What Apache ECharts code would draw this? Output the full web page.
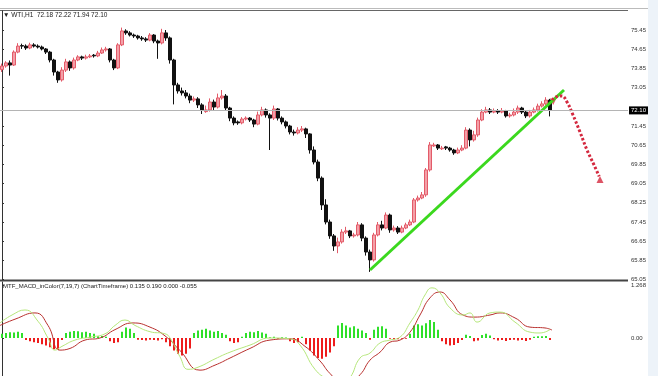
<!DOCTYPE html>
<html><head><meta charset="utf-8">
<script src="https://cdn.jsdelivr.net/npm/echarts@6/dist/echarts.min.js"></script>
<style>html,body{margin:0;padding:0;background:#fff}#c{width:658px;height:376px}</style>
</head><body><div id="c"></div>
<script>
// ---- DATA ----
const opens = [73.80,73.95,74.08,73.99,74.53,74.80,74.78,74.70,74.83,74.78,
74.74,74.66,74.53,74.20,73.70,73.37,73.78,74.12,73.87,74.20,
74.33,74.28,74.33,74.40,74.37,74.49,74.62,74.66,74.20,73.87,
74.83,75.41,75.33,75.24,75.20,75.12,75.08,75.03,75.24,74.99,
74.91,75.33,75.12,74.20,73.16,72.91,72.83,72.70,72.53,72.58,
72.33,72.05,72.12,72.45,72.24,72.62,72.70,72.20,71.78,71.62,
71.58,71.74,71.78,71.70,71.53,71.91,72.12,71.91,71.78,72.16,
71.78,71.62,71.45,71.20,71.16,71.28,71.33,71.12,70.45,69.95,
69.28,68.16,67.45,66.87,66.45,66.62,67.03,67.08,66.87,66.91,
67.33,66.78,66.20,65.87,66.91,67.33,67.20,67.74,67.12,67.20,
67.03,67.20,67.33,67.45,68.37,68.45,68.58,69.62,70.62,70.66,
70.50,70.58,70.53,70.45,70.33,70.45,70.53,71.28,70.87,71.08,
71.70,72.03,72.12,72.03,72.08,72.03,72.08,71.87,71.91,72.03,
72.20,72.03,71.87,72.03,72.12,72.28,72.37,72.53];
const closes = [73.95,74.08,73.99,74.53,74.78,74.78,74.70,74.83,74.78,74.74,
74.66,74.53,74.20,73.70,73.37,73.78,74.12,73.87,74.20,74.33,
74.28,74.33,74.37,74.37,74.49,74.62,74.66,74.20,73.87,74.83,
75.41,75.33,75.24,75.20,75.12,75.08,75.03,75.24,74.99,74.91,
75.33,75.12,74.20,73.16,72.91,72.83,72.70,72.53,72.58,72.33,
72.12,72.12,72.45,72.24,72.62,72.70,72.20,71.78,71.58,71.58,
71.74,71.78,71.70,71.53,71.91,72.12,71.91,71.78,72.16,71.78,
71.62,71.45,71.20,71.16,71.28,71.33,71.12,70.45,69.95,69.28,
68.16,67.45,66.87,66.45,66.62,67.03,67.08,66.87,66.91,67.33,
66.78,66.20,65.87,66.91,67.33,67.20,67.74,67.12,67.20,67.03,
67.20,67.33,67.45,68.37,68.45,68.58,69.62,70.66,70.66,70.53,
70.53,70.53,70.45,70.33,70.45,70.53,71.28,70.87,71.08,71.70,
72.03,72.12,72.03,72.08,72.03,72.08,71.87,71.91,72.03,72.20,
72.03,71.87,72.03,72.12,72.28,72.37,72.53,72.10];
const highs = [74.05,74.15,74.18,74.60,74.90,74.88,74.85,74.92,74.90,74.85,
74.80,74.70,74.58,74.25,73.75,73.90,74.25,74.18,74.30,74.40,
74.38,74.42,74.45,74.45,74.58,74.72,74.75,74.70,74.25,74.90,
75.55,75.48,75.40,75.30,75.25,75.20,75.15,75.32,75.28,75.05,
75.50,75.45,75.18,74.25,73.25,73.05,72.95,72.80,72.68,72.65,
72.40,72.30,72.60,72.55,72.80,72.95,72.78,72.25,71.85,71.68,
71.82,71.85,71.82,71.75,72.05,72.25,72.18,71.98,72.30,72.20,
71.85,71.68,71.50,71.30,71.40,71.45,71.38,71.15,70.60,70.05,
69.35,68.40,67.55,66.95,66.80,67.15,67.25,67.12,67.00,67.45,
67.40,66.85,66.30,67.00,67.45,67.50,67.85,67.80,67.30,67.28,
67.30,67.42,67.55,68.45,68.55,68.70,69.70,70.78,70.75,70.70,
70.62,70.62,70.58,70.50,70.55,70.65,71.40,71.35,71.25,71.80,
72.15,72.25,72.20,72.18,72.15,72.20,72.12,72.00,72.18,72.30,
72.25,72.08,72.12,72.22,72.38,72.48,72.65,72.58];
const lows = [73.70,73.88,73.55,73.95,74.48,74.66,74.62,74.65,74.72,74.68,
74.60,74.45,74.10,73.55,73.25,73.30,73.70,73.75,73.80,74.15,
74.20,74.22,74.28,74.30,74.32,74.45,74.55,74.10,73.78,73.82,
74.78,75.25,75.18,75.12,75.05,75.00,74.95,74.98,74.90,74.25,
74.85,75.00,74.05,72.35,72.80,72.72,72.60,72.40,72.45,72.20,
71.95,72.00,72.05,72.10,72.18,72.55,72.10,71.65,71.48,71.50,
71.52,71.68,71.62,71.40,71.48,71.85,71.80,70.45,71.70,71.68,
71.52,71.35,71.10,71.05,71.10,71.20,70.95,70.30,69.85,69.15,
67.95,67.35,66.75,66.25,66.15,66.55,66.95,66.78,66.80,66.85,
66.65,66.05,65.37,65.80,66.85,67.10,67.15,67.00,67.05,66.95,
66.98,67.15,67.28,67.40,68.30,68.40,68.50,69.55,70.58,70.45,
70.45,70.45,70.38,70.25,70.28,70.40,70.48,70.60,70.80,71.00,
71.65,71.98,71.95,71.98,71.95,71.98,71.80,71.80,71.85,71.95,
71.95,71.78,71.80,71.98,72.05,72.22,72.30,71.85];

const macdHist = [0.10,0.12,0.14,0.13,0.15,0.12,
-0.05,-0.08,-0.10,-0.12,-0.15,-0.18,-0.22,-0.27,-0.29,
-0.05,
0.12,0.15,0.17,0.16,0.14,0.15,0.12,0.10,
0.04,0.05,0.03,
-0.08,-0.12,-0.10,
0.15,0.25,0.22,0.12,
-0.04,-0.05,-0.06,-0.04,-0.05,-0.06,-0.03,
-0.10,-0.20,-0.30,-0.38,-0.42,-0.38,-0.25,
0.12,0.18,0.20,0.22,0.18,0.15,0.17,0.12,0.08,
-0.08,-0.12,-0.10,
0.03,
0.12,0.15,0.14,0.17,0.13,0.10,
0.02,0.03,-0.02,0.02,0.01,
-0.08,-0.12,-0.10,
0.03,
-0.15,-0.30,-0.42,-0.48,-0.50,-0.45,-0.35,-0.20,
0.30,0.36,0.30,0.25,0.28,0.22,0.18,0.12,
-0.04,
0.20,0.27,0.28,0.22,
-0.02,-0.03,-0.03,-0.02,-0.02,
0.10,0.30,0.33,0.30,0.35,0.43,0.38,0.20,
-0.08,-0.15,-0.18,-0.17,-0.12,-0.05,
0.08,0.05,
-0.08,-0.06,
0.07,0.10,0.06,
-0.03,-0.06,-0.05,-0.07,-0.05,-0.04,-0.06,-0.05,-0.07,-0.04,
0.03,0.04,0.04,0.05,
-0.05];

const macdMain = [[-0.5,0.36],[2.5,0.55],[5.75,0.67],[9,0.4],[11.5,0.0],[13.25,-0.29],[15,-0.2],[18.25,-0.05],[22,0.02],[25.75,0.1],[28.25,0.3],[30.75,0.43],[33.25,0.3],[37,0.15],[40.75,0.1],[42,0.0],[44.5,-0.45],[46.5,-0.75],[49,-0.7],[53.25,-0.5],[57,-0.34],[62,-0.17],[67,0.0],[72,-0.02],[74.5,-0.17],[78.25,-0.75],[81.5,-1.0],[84.5,-1.15],[87,-0.95],[89.5,-0.48],[92,-0.36],[94.5,-0.12],[97,-0.05],[99.5,0.02],[102,0.36],[104,0.67],[105.75,1.03],[107.5,1.2],[109.5,1.08],[112,0.72],[115.25,0.55],[117,0.6],[118.75,0.38],[122,0.6],[124.5,0.62],[128.25,0.38],[132,0.14],[134.5,0.12],[137,0.2]];
const macdSignal = [[-0.5,0.3],[3.25,0.45],[8.25,0.6],[11.5,0.3],[14.5,-0.29],[17,-0.25],[20.75,-0.05],[24.5,0.0],[28.25,0.2],[32.75,0.36],[37,0.26],[40.75,0.05],[44.5,-0.3],[49.5,-0.77],[53.25,-0.65],[57,-0.48],[62,-0.25],[67,-0.05],[72,-0.02],[75.75,-0.2],[79.5,-0.55],[82,-0.85],[85.75,-1.15],[89.5,-0.88],[92,-0.53],[94.5,-0.34],[97,-0.1],[99.5,-0.05],[102,0.14],[104.5,0.55],[107,0.96],[109.5,1.1],[112,0.91],[115.25,0.55],[118.25,0.5],[122,0.55],[124.5,0.6],[128.25,0.48],[132,0.26],[135.75,0.24],[137.5,0.19]];

const trendLine = [[92,65.45],[140.5,72.95]];
const forecastPath = [[137.5,72.53],[138.5,72.66],[140,72.70],[141.25,72.45],[142.75,71.91],[144.5,71.20],[146.25,70.45],[148,69.83],[149.3,69.35]];
const forecastArrow = [[149.5,69.22]];
const markerDown = [[137.8,72.32]];
const currentPrice = 72.10;
const priceTicks = [65.05,65.85,66.65,67.45,68.25,69.05,69.85,70.65,71.45,73.05,73.85,74.65,75.45];
const macdTicks = [0, 1.268];
const totalSlots = 157;
const titleText = '\u25BC WTI,H1  72.18 72.22 71.94 72.10';
const macdText = 'MTF_MACD_inColor(7,19,7) (ChartTimeframe) 0.135 0.190 0.000 -0.055';

// ---- CHART ----
const cats = Array.from({length: totalSlots}, (_, i) => String(i));
const candles = opens.map((o, i) => [o, closes[i], lows[i], highs[i]]);
const FONT = 'Liberation Sans';
const chart = echarts.init(document.getElementById('c'), null, {renderer: 'canvas'});
chart.setOption({
  animation: false,
  backgroundColor: '#ffffff',
  grid: [
    {left: 0, right: 30, top: 10.8, height: 268.8},
    {left: 0, right: 30, top: 282, height: 94}
  ],
  xAxis: [
    {type: 'category', gridIndex: 0, data: cats, boundaryGap: true, show: false},
    {type: 'value', gridIndex: 0, min: -0.5, max: totalSlots - 0.5, show: false},
    {type: 'category', gridIndex: 1, data: cats, boundaryGap: true, show: false},
    {type: 'value', gridIndex: 1, min: -0.5, max: totalSlots - 0.5, show: false}
  ],
  yAxis: [
    {type: 'value', gridIndex: 0, position: 'right', min: 65.05, max: 76.25,
     axisLine: {show: true, lineStyle: {color: '#333', width: 1}},
     axisTick: {show: true, length: 2, lineStyle: {color: '#333'}, customValues: priceTicks},
     axisLabel: {customValues: priceTicks, formatter: v => v.toFixed(2), fontSize: 6, color: '#333', margin: 3, fontFamily: FONT},
     splitLine: {show: false}},
    {type: 'value', gridIndex: 1, position: 'right', min: -0.91, max: 1.34,
     axisLine: {show: true, lineStyle: {color: '#333', width: 1}},
     axisTick: {show: true, length: 2, lineStyle: {color: '#333'}, customValues: macdTicks},
     axisLabel: {customValues: macdTicks, formatter: v => v === 0 ? '0.00' : v.toFixed(3), fontSize: 6, color: '#333', margin: 3, fontFamily: FONT},
     splitLine: {show: false}}
  ],
  series: [
    {type: 'candlestick', xAxisIndex: 0, yAxisIndex: 0, data: candles, barWidth: 2.8,
     itemStyle: {color: '#f3a0a8', color0: '#111111', borderColor: '#e35b69', borderColor0: '#111111', borderWidth: 1},
     markLine: {silent: true, symbol: 'none', animation: false,
       data: [{yAxis: currentPrice}],
       lineStyle: {color: '#b4b4b4', width: 1, type: 'solid'},
       label: {show: true, position: 'end', distance: 1, formatter: currentPrice.toFixed(2), backgroundColor: '#000', color: '#fff', fontSize: 6, padding: [1, 2], fontFamily: FONT}}},
    {type: 'line', xAxisIndex: 1, yAxisIndex: 0, data: trendLine, symbol: 'none',
     lineStyle: {color: '#3bd81e', width: 3}},
    {type: 'line', xAxisIndex: 1, yAxisIndex: 0, data: forecastPath, symbol: 'none', smooth: 0.4,
     lineStyle: {color: '#d4283e', width: 3, type: [2.5, 2], cap: 'butt'}},
    {type: 'scatter', xAxisIndex: 1, yAxisIndex: 0, data: forecastArrow, symbol: 'triangle', symbolSize: [7, 7],
     itemStyle: {color: '#d4283e'}},
    {type: 'scatter', xAxisIndex: 1, yAxisIndex: 0, data: markerDown, symbol: 'arrow', symbolRotate: 180, symbolSize: [5, 7],
     itemStyle: {color: '#e0283e'}},
    {type: 'bar', xAxisIndex: 2, yAxisIndex: 1, data: macdHist, barWidth: 2,
     itemStyle: {color: p => p.value >= 0 ? '#2fe02a' : '#ee1c1c'}},
    {type: 'line', xAxisIndex: 3, yAxisIndex: 1, data: macdSignal, symbol: 'none', smooth: 0.5,
     lineStyle: {color: '#b8302e', width: 1}},
    {type: 'line', xAxisIndex: 3, yAxisIndex: 1, data: macdMain, symbol: 'none', smooth: 0.5,
     lineStyle: {color: '#b5e67a', width: 1}}
  ],
  graphic: [
    {type: 'rect', shape: {x: 648, y: 0, width: 10, height: 376}, style: {fill: '#edf3f9'}, z: -1},
    {type: 'line', shape: {x1: 0, y1: 8.5, x2: 648, y2: 8.5}, style: {stroke: '#bbbbbb', lineWidth: 1}},
    {type: 'line', shape: {x1: 0, y1: 10.5, x2: 628, y2: 10.5}, style: {stroke: '#666666', lineWidth: 1}},
    {type: 'line', shape: {x1: 0, y1: 280.5, x2: 628, y2: 280.5}, style: {stroke: '#444444', lineWidth: 2}},
    {type: 'text', left: 3, top: 12, style: {text: titleText, fontSize: 6.5, fill: '#222', fontFamily: FONT}},
    {type: 'text', left: 3, top: 283, style: {text: macdText, fontSize: 6, fill: '#222', fontFamily: FONT}}
  ]
});
</script></body></html>
